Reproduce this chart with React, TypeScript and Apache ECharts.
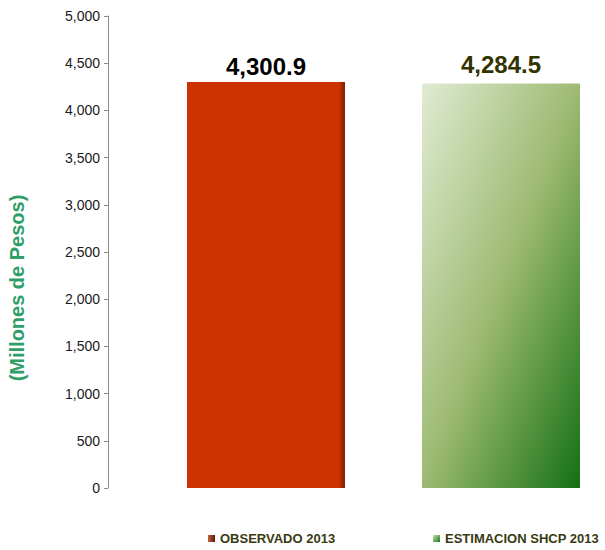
import React, { useEffect, useRef } from "react";
import * as echarts from "echarts";

const categories = ["OBSERVADO 2013", "ESTIMACION SHCP 2013"];
const observado = [4300.9, "-"];
const estimacion = ["-", 4284.5];
const yMin = 0;
const yMax = 5000;
const yInterval = 500;

export default function App() {
  const ref = useRef<HTMLDivElement>(null);
  useEffect(() => {
    document.body.style.margin = "0";
    const chart = echarts.init(ref.current!, null, { renderer: "svg" });
    const sans = "'Liberation Sans', Arial, sans-serif";
    const fmt = (p: any) =>
      Number(p.value).toLocaleString("en-US", { minimumFractionDigits: 1, maximumFractionDigits: 1 });
    const legendText = {
      fontFamily: sans,
      fontWeight: "bold",
      fontSize: 13,
      color: "#3a3a12",
    };
    chart.setOption({
      animation: false,
      backgroundColor: "#ffffff",
      grid: { left: 266, right: 104, top: 16, bottom: 62 },
      legend: [
        {
          bottom: 0,
          left: 203,
          itemWidth: 7,
          itemHeight: 7,
          itemGap: 4,
          icon: "rect",
          textStyle: legendText,
          data: [
            {
              name: categories[0],
              itemStyle: {
                color: new echarts.graphic.LinearGradient(0, 0, 1, 0, [
                  { offset: 0, color: "#c4643a" },
                  { offset: 1, color: "#5a1a08" },
                ]),
              },
            },
          ],
        },
        {
          bottom: 0,
          left: 428,
          itemWidth: 7,
          itemHeight: 7,
          icon: "rect",
          textStyle: legendText,
          data: [
            {
              name: categories[1],
              itemStyle: {
                color: new echarts.graphic.LinearGradient(0, 0, 1, 1, [
                  { offset: 0, color: "#c8e0b0" },
                  { offset: 1, color: "#1a7a1a" },
                ]),
              },
            },
          ],
        },
      ],
      xAxis: {
        type: "category",
        data: categories,
        boundaryGap: false,
        axisLine: { show: false },
        axisTick: { show: false },
        axisLabel: { show: false },
      },
      yAxis: {
        type: "value",
        min: yMin,
        max: yMax,
        interval: yInterval,
        offset: 158,
        splitLine: { show: false },
        axisLine: { show: true, lineStyle: { color: "#8c8c8c", width: 1 } },
        axisTick: { show: true, length: 4, lineStyle: { color: "#8c8c8c" } },
        axisLabel: {
          fontFamily: sans,
          fontSize: 14,
          color: "#1a1a1a",
          margin: 8,
          formatter: (v: number) => v.toLocaleString("en-US"),
        },
      },
      graphic: [
        {
          type: "text",
          x: 17,
          y: 288,
          rotation: Math.PI / 2,
          style: {
            text: "(Millones de Pesos)",
            fontFamily: sans,
            fontWeight: "bold",
            fontSize: 20,
            fill: "#2f9e68",
            align: "center",
            verticalAlign: "middle",
          },
        },
      ],
      series: [
        {
          name: categories[0],
          type: "bar",
          stack: "all",
          barWidth: 158,
          clip: false,
          data: observado,
          itemStyle: {
            color: new echarts.graphic.LinearGradient(0, 0, 1, 0, [
              { offset: 0, color: "#cc3300" },
              { offset: 0.96, color: "#cc3300" },
              { offset: 1, color: "#7a2200" },
            ]),
          },
          label: {
            show: true,
            position: "top",
            distance: 3,
            formatter: fmt,
            fontFamily: sans,
            fontWeight: "bold",
            fontSize: 24,
            color: "#000000",
          },
        },
        {
          name: categories[1],
          type: "bar",
          stack: "all",
          barWidth: 158,
          clip: false,
          data: estimacion,
          itemStyle: {
            color: new echarts.graphic.LinearGradient(0, 0, 1, 1, [
              { offset: 0, color: "#e0ebd3" },
              { offset: 0.5, color: "#9dba72" },
              { offset: 1, color: "#147014" },
            ]),
          },
          label: {
            show: true,
            position: "top",
            distance: 7,
            formatter: fmt,
            fontFamily: sans,
            fontWeight: "bold",
            fontSize: 24,
            color: "#333300",
          },
        },
      ],
    });
    return () => chart.dispose();
  }, []);
  return <div ref={ref} style={{ width: 605, height: 550 }} />;
}
